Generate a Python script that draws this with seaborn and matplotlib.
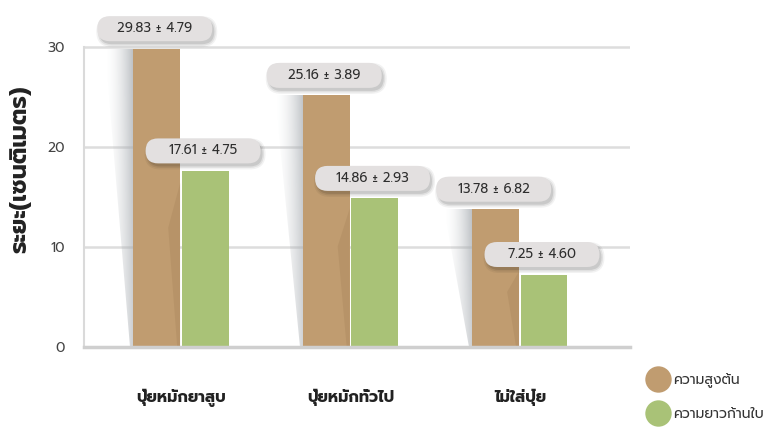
import numpy as np
import pandas as pd
import matplotlib
matplotlib.use("Agg")
import matplotlib.pyplot as plt
import seaborn as sns
from matplotlib.patches import FancyBboxPatch, Polygon
from matplotlib.lines import Line2D
from matplotlib.transforms import IdentityTransform

# ---- data -------------------------------------------------------------
categories = ["ปุ๋ยหมักยาสูบ", "ปุ๋ยหมักทั่วไป", "ไม่ใส่ปุ๋ย"]
series_names = ["ความสูงต้น", "ความยาวก้านใบ"]
stem_height_mean = [29.83, 25.16, 13.78]
stem_height_sd = [4.79, 3.89, 6.82]
petiole_length_mean = [17.61, 14.86, 7.25]
petiole_length_sd = [4.75, 2.93, 4.60]
y_ticks = [0, 10, 20, 30]
y_label = "ระยะ(เซนติเมตร)"

colors = ["#c09c70", "#a9c277"]

sns.set_theme(style="white")
plt.rcParams["font.family"] = ["Prompt", "Noto Sans Thai", "DejaVu Sans"]

df = pd.DataFrame({
    "group": categories * 2,
    "series": [series_names[0]] * 3 + [series_names[1]] * 3,
    "value": stem_height_mean + petiole_length_mean,
})

W, H = 771, 437
fig = plt.figure(figsize=(W / 100, H / 100), dpi=100, facecolor="white")
ax = fig.add_axes([84 / W, 90 / H, 546 / W, 330 / H])

sns.barplot(data=df, x="group", y="value", hue="series", order=categories,
            hue_order=series_names, palette=colors, saturation=1,
            width=0.57, gap=0.03, errorbar=None, legend=False, ax=ax,
            linewidth=0)

ax.set_xlim(-0.572, 2.65)
ax.set_ylim(0, 33)
ax.set_yticks(y_ticks)
ax.set_yticklabels([str(t) for t in y_ticks])
ax.set_axisbelow(True)
ax.yaxis.grid(True, color="#dddddd", linewidth=1.8)
ax.xaxis.grid(False)
for side in ["top", "right"]:
    ax.spines[side].set_visible(False)
ax.spines["left"].set_color("#dadada")
ax.spines["left"].set_linewidth(1.5)
ax.spines["left"].set_bounds(y_ticks[0], y_ticks[-1])
ax.spines["bottom"].set_color("#cfcfcf")
ax.spines["bottom"].set_linewidth(2.5)

ax.tick_params(axis="y", length=0, pad=14, labelsize=10, labelcolor="#444444")
ax.tick_params(axis="x", length=0, pad=30, labelsize=11.5, labelcolor="#222222")
for lab in ax.get_xticklabels():
    lab.set_fontweight("bold")
ax.set_xlabel("")
ax.set_ylabel(y_label, fontsize=17, fontweight="bold", color="#222222")
ax.yaxis.set_label_coords((31 - 84) / 546, 0.54)

to_px = ax.transData.transform
to_data = ax.transData.inverted().transform

# ---- shading around the stem-height bars ------------------------------
for bar in ax.containers[0]:
    bar.set_zorder(2)
    x0 = bar.get_x()
    x1 = x0 + bar.get_width()
    h = bar.get_height()
    px0, ptop = to_px((x0, h))
    px1, pbot = to_px((x1, 0))

    # soft grey wedge on the left
    wedge_px = [(px0 - 28, ptop), (px0, ptop), (px0, pbot), (px0 - 3, pbot)]
    wedge = Polygon([to_data(p) for p in wedge_px], closed=True,
                    transform=ax.transData)
    nx, ny = 60, 40
    t = np.linspace(0, 1, nx)[None, :]
    v = np.linspace(1, 0.75, ny)[:, None]
    img = np.zeros((ny, nx, 4))
    img[..., 0] = 0.66
    img[..., 1] = 0.68
    img[..., 2] = 0.70
    img[..., 3] = 0.75 * (t ** 1.8) * v
    (dx0, dy0) = to_data((px0 - 28, pbot))
    (dx1, dy1) = to_data((px0, ptop))
    im = ax.imshow(img, extent=[dx0, dx1, dy0, dy1], origin="upper",
                   aspect="auto", zorder=1.5, interpolation="bilinear")
    im.set_clip_path(wedge)

    # faint fold near the right edge of the bar
    fold_px = [(px1, pbot + 0.55 * (ptop - pbot)),
               (px1 - 12, pbot + 0.4 * (ptop - pbot)),
               (px1 - 3, pbot), (px1, pbot)]
    ax.add_patch(Polygon([to_data(p) for p in fold_px], closed=True,
                         facecolor="#93724a", alpha=0.2, linewidth=0,
                         zorder=2.5))
for bar in ax.containers[1]:
    bar.set_zorder(2)

ax.set_xlim(-0.572, 2.65)
ax.set_ylim(0, 33)

# ---- value pills ------------------------------------------------------
box_w, box_h = 115, 25
means = [stem_height_mean, petiole_length_mean]
sds = [stem_height_sd, petiole_length_sd]
for k, cont in enumerate(ax.containers):
    for i, bar in enumerate(cont):
        cx = bar.get_x() + bar.get_width() / 2
        px, py = to_px((cx, bar.get_height()))
        bx, by = px - 2, py + 20
        for a, grow in [(0.05, 3), (0.07, 1.5), (0.10, 0)]:
            sh = FancyBboxPatch((bx - box_w / 2 + 2 - grow, by - box_h / 2 - 3 - grow),
                                box_w + 2 * grow, box_h + 2 * grow,
                                boxstyle=f"round,pad=0,rounding_size={box_h / 2 + grow}",
                                transform=IdentityTransform(), facecolor="#000000",
                                alpha=a, linewidth=0, zorder=4, clip_on=False)
            ax.add_artist(sh)
        pill = FancyBboxPatch((bx - box_w / 2, by - box_h / 2), box_w, box_h,
                              boxstyle=f"round,pad=0,rounding_size={box_h / 2}",
                              transform=IdentityTransform(), facecolor="#e3e0e0",
                              linewidth=0, zorder=5, clip_on=False)
        ax.add_artist(pill)
        ax.text(bx, by, f"{means[k][i]:.2f} ± {sds[k][i]:.2f}",
                transform=IdentityTransform(), ha="center", va="center",
                fontsize=9.5, color="#2e2e2e", zorder=6, clip_on=False)

# ---- legend -----------------------------------------------------------
handles = [Line2D([], [], marker="o", linestyle="", markersize=19,
                  markerfacecolor=c, markeredgewidth=0) for c in colors]
fig.legend(handles, series_names, loc="center left",
           bbox_to_anchor=(634 / W, 1 - 397 / H), frameon=False,
           fontsize=10, labelspacing=1.4, handletextpad=0.35,
           handlelength=1.6, labelcolor="#333333")

fig.savefig("out.png", dpi=100, facecolor="white")
